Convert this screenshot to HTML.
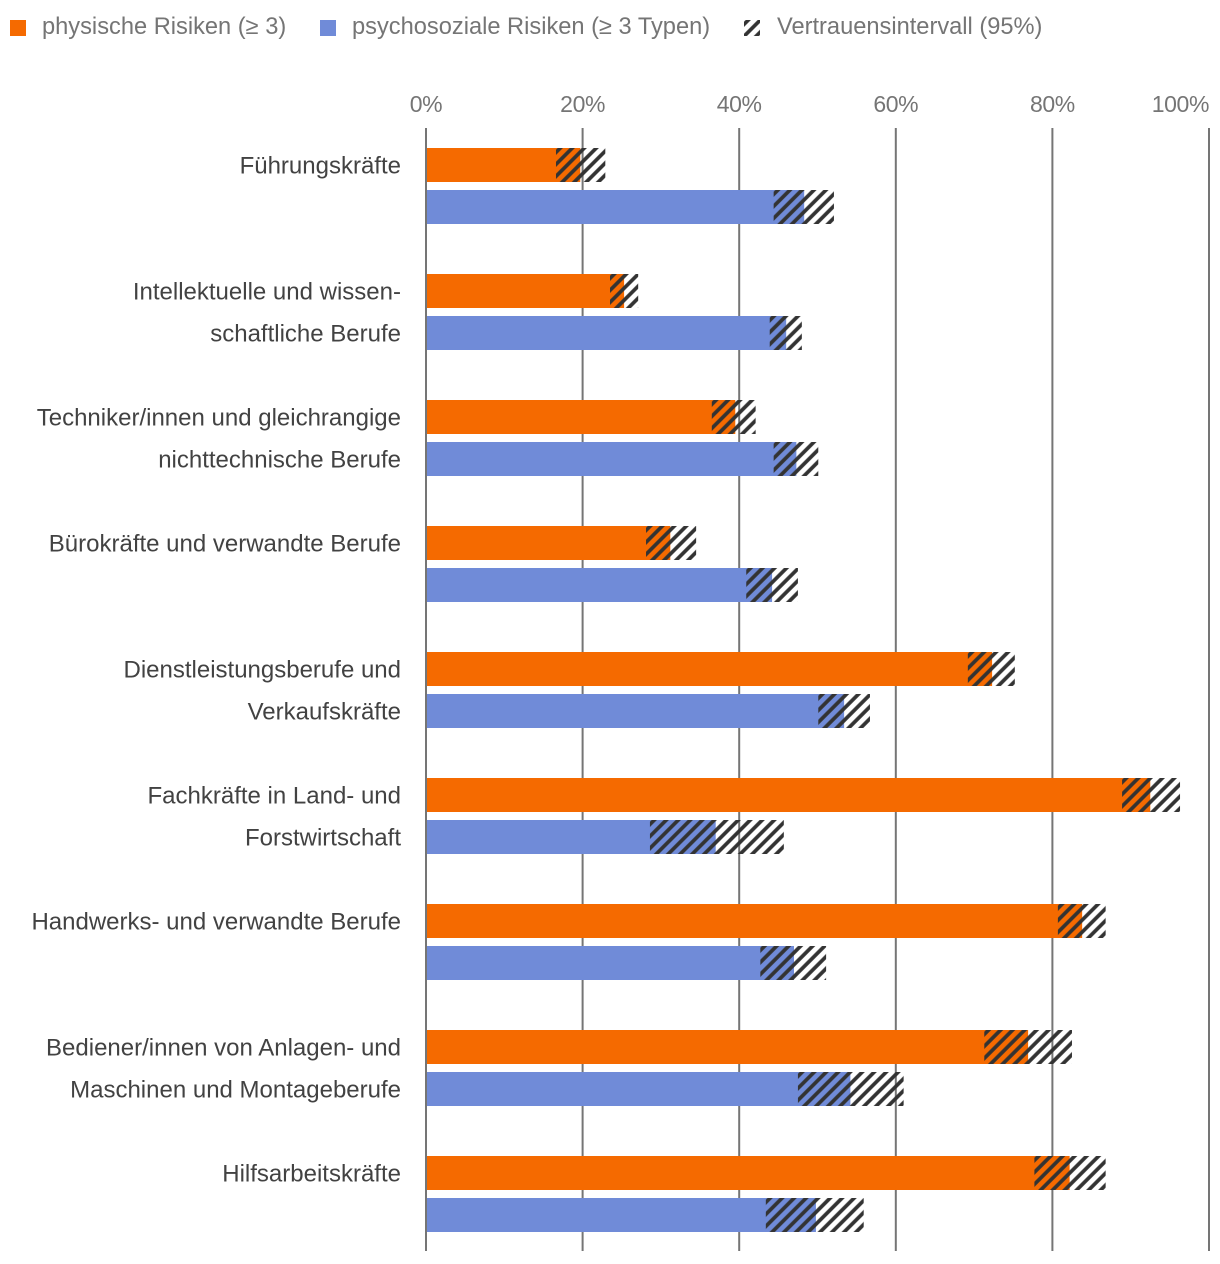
<!DOCTYPE html>
<html lang="de">
<head>
<meta charset="utf-8">
<title>Risiken nach Berufsgruppe</title>
<style>
html,body{margin:0;padding:0;background:#fff;}
svg{display:block;font-family:"Liberation Sans",sans-serif;}
</style>
</head>
<body>
<svg id="chart" xmlns="http://www.w3.org/2000/svg" width="1220" height="1264" viewBox="0 0 1220 1264">
  <defs>
    <pattern id="hatch" patternUnits="userSpaceOnUse" width="8.485" height="8.485" patternTransform="rotate(45)">
      <rect x="1.2" y="0" width="3.7" height="8.485" fill="#333333"></rect>
    </pattern>
  </defs>
  <g>
    <g>
      <rect x="10" y="20" width="16" height="16" fill="#f56a00"></rect>
      <text x="42" y="34" font-size="23.65" fill="#757575">physische Risiken (≥ 3)</text>
    </g>
    <g>
      <rect x="320" y="20" width="16" height="16" fill="#708bd8"></rect>
      <text x="352" y="34" font-size="23.65" fill="#757575">psychosoziale Risiken (≥ 3 Typen)</text>
    </g>
    <g>
      <rect x="0" y="0" width="16" height="16" fill="url(#hatch)" transform="translate(744 20)"></rect>
      <text x="777" y="34" font-size="23.65" fill="#757575">Vertrauensintervall (95%)</text>
    </g>
  </g>
  <g id="grid"></g>
  <g id="ticks"></g>
  <g id="bars"></g>
  <g id="cats"></g>
</svg>
<script>
const categories = [
  ["Führungskräfte"],
  ["Intellektuelle und wissen-", "schaftliche Berufe"],
  ["Techniker/innen und gleichrangige", "nichttechnische Berufe"],
  ["Bürokräfte und verwandte Berufe"],
  ["Dienstleistungsberufe und", "Verkaufskräfte"],
  ["Fachkräfte in Land- und", "Forstwirtschaft"],
  ["Handwerks- und verwandte Berufe"],
  ["Bediener/innen von Anlagen- und", "Maschinen und Montageberufe"],
  ["Hilfsarbeitskräfte"]
];
const physicalValues = [19.7, 25.3, 39.5, 31.2, 72.3, 92.5, 83.8, 76.9, 82.2];
const physicalLow = [16.6, 23.5, 36.5, 28.1, 69.2, 88.9, 80.7, 71.3, 77.7];
const physicalHigh = [22.9, 27.1, 42.1, 34.5, 75.2, 96.3, 86.8, 82.5, 86.8];
const psychosocialValues = [48.3, 46.0, 47.3, 44.2, 53.4, 37.0, 47.0, 54.2, 49.8];
const psychosocialLow = [44.4, 43.9, 44.4, 40.9, 50.1, 28.6, 42.7, 47.5, 43.4];
const psychosocialHigh = [52.1, 48.0, 50.1, 47.5, 56.7, 45.7, 51.1, 61.0, 55.9];
const tickValues = [0, 20, 40, 60, 80, 100];

const NS = "http://www.w3.org/2000/svg";
const xScale = v => 426 + v * 7.83;
const groupTop = i => 148 + i * 126;
const BAR_H = 34;
const BAR_GAP = 42;

function make(tag, attrs, parent) {
  const el = document.createElementNS(NS, tag);
  for (const k in attrs) el.setAttribute(k, attrs[k]);
  parent.appendChild(el);
  return el;
}

const gridG = document.getElementById("grid");
const ticksG = document.getElementById("ticks");
tickValues.forEach(t => {
  const line = make("rect", {x: xScale(t) - 1, y: 128, width: 2, height: 1123, fill: "#757575"}, gridG);
  
  
  const label = make("text", {
    x: xScale(t),
    y: 112,
    "font-size": 23,
    "letter-spacing": -0.4,
    fill: "#757575",
    "text-anchor": t === 100 ? "end" : "middle"
  }, ticksG);
  
  
  label.textContent = t + "%";
});

const barsG = document.getElementById("bars");
function drawSeries(y, value, low, high, color) {
  const bar = make("rect", {x: xScale(0) + 1, y: y, width: xScale(value) - xScale(0) - 1, height: BAR_H, fill: color}, barsG);
  
  
  const ci = make("rect", {
    x: 0,
    y: 0,
    width: xScale(high) - xScale(low),
    height: BAR_H,
    fill: "url(#hatch)",
    transform: "translate(" + xScale(low) + " " + y + ")"
  }, barsG);
  
  
}
categories.forEach((c, i) => {
  drawSeries(groupTop(i), physicalValues[i], physicalLow[i], physicalHigh[i], "#f56a00");
  drawSeries(groupTop(i) + BAR_GAP, psychosocialValues[i], psychosocialLow[i], psychosocialHigh[i], "#708bd8");
});

const catsG = document.getElementById("cats");
categories.forEach((lines, i) => {
  lines.forEach((txt, j) => {
    const label = make("text", {
      x: 401,
      y: groupTop(i) + 25.5 + j * BAR_GAP,
      "font-size": 24,
      fill: "#424242",
      "text-anchor": "end"
    }, catsG);
    
    
    label.textContent = txt;
  });
});
</script>
</body>
</html>
